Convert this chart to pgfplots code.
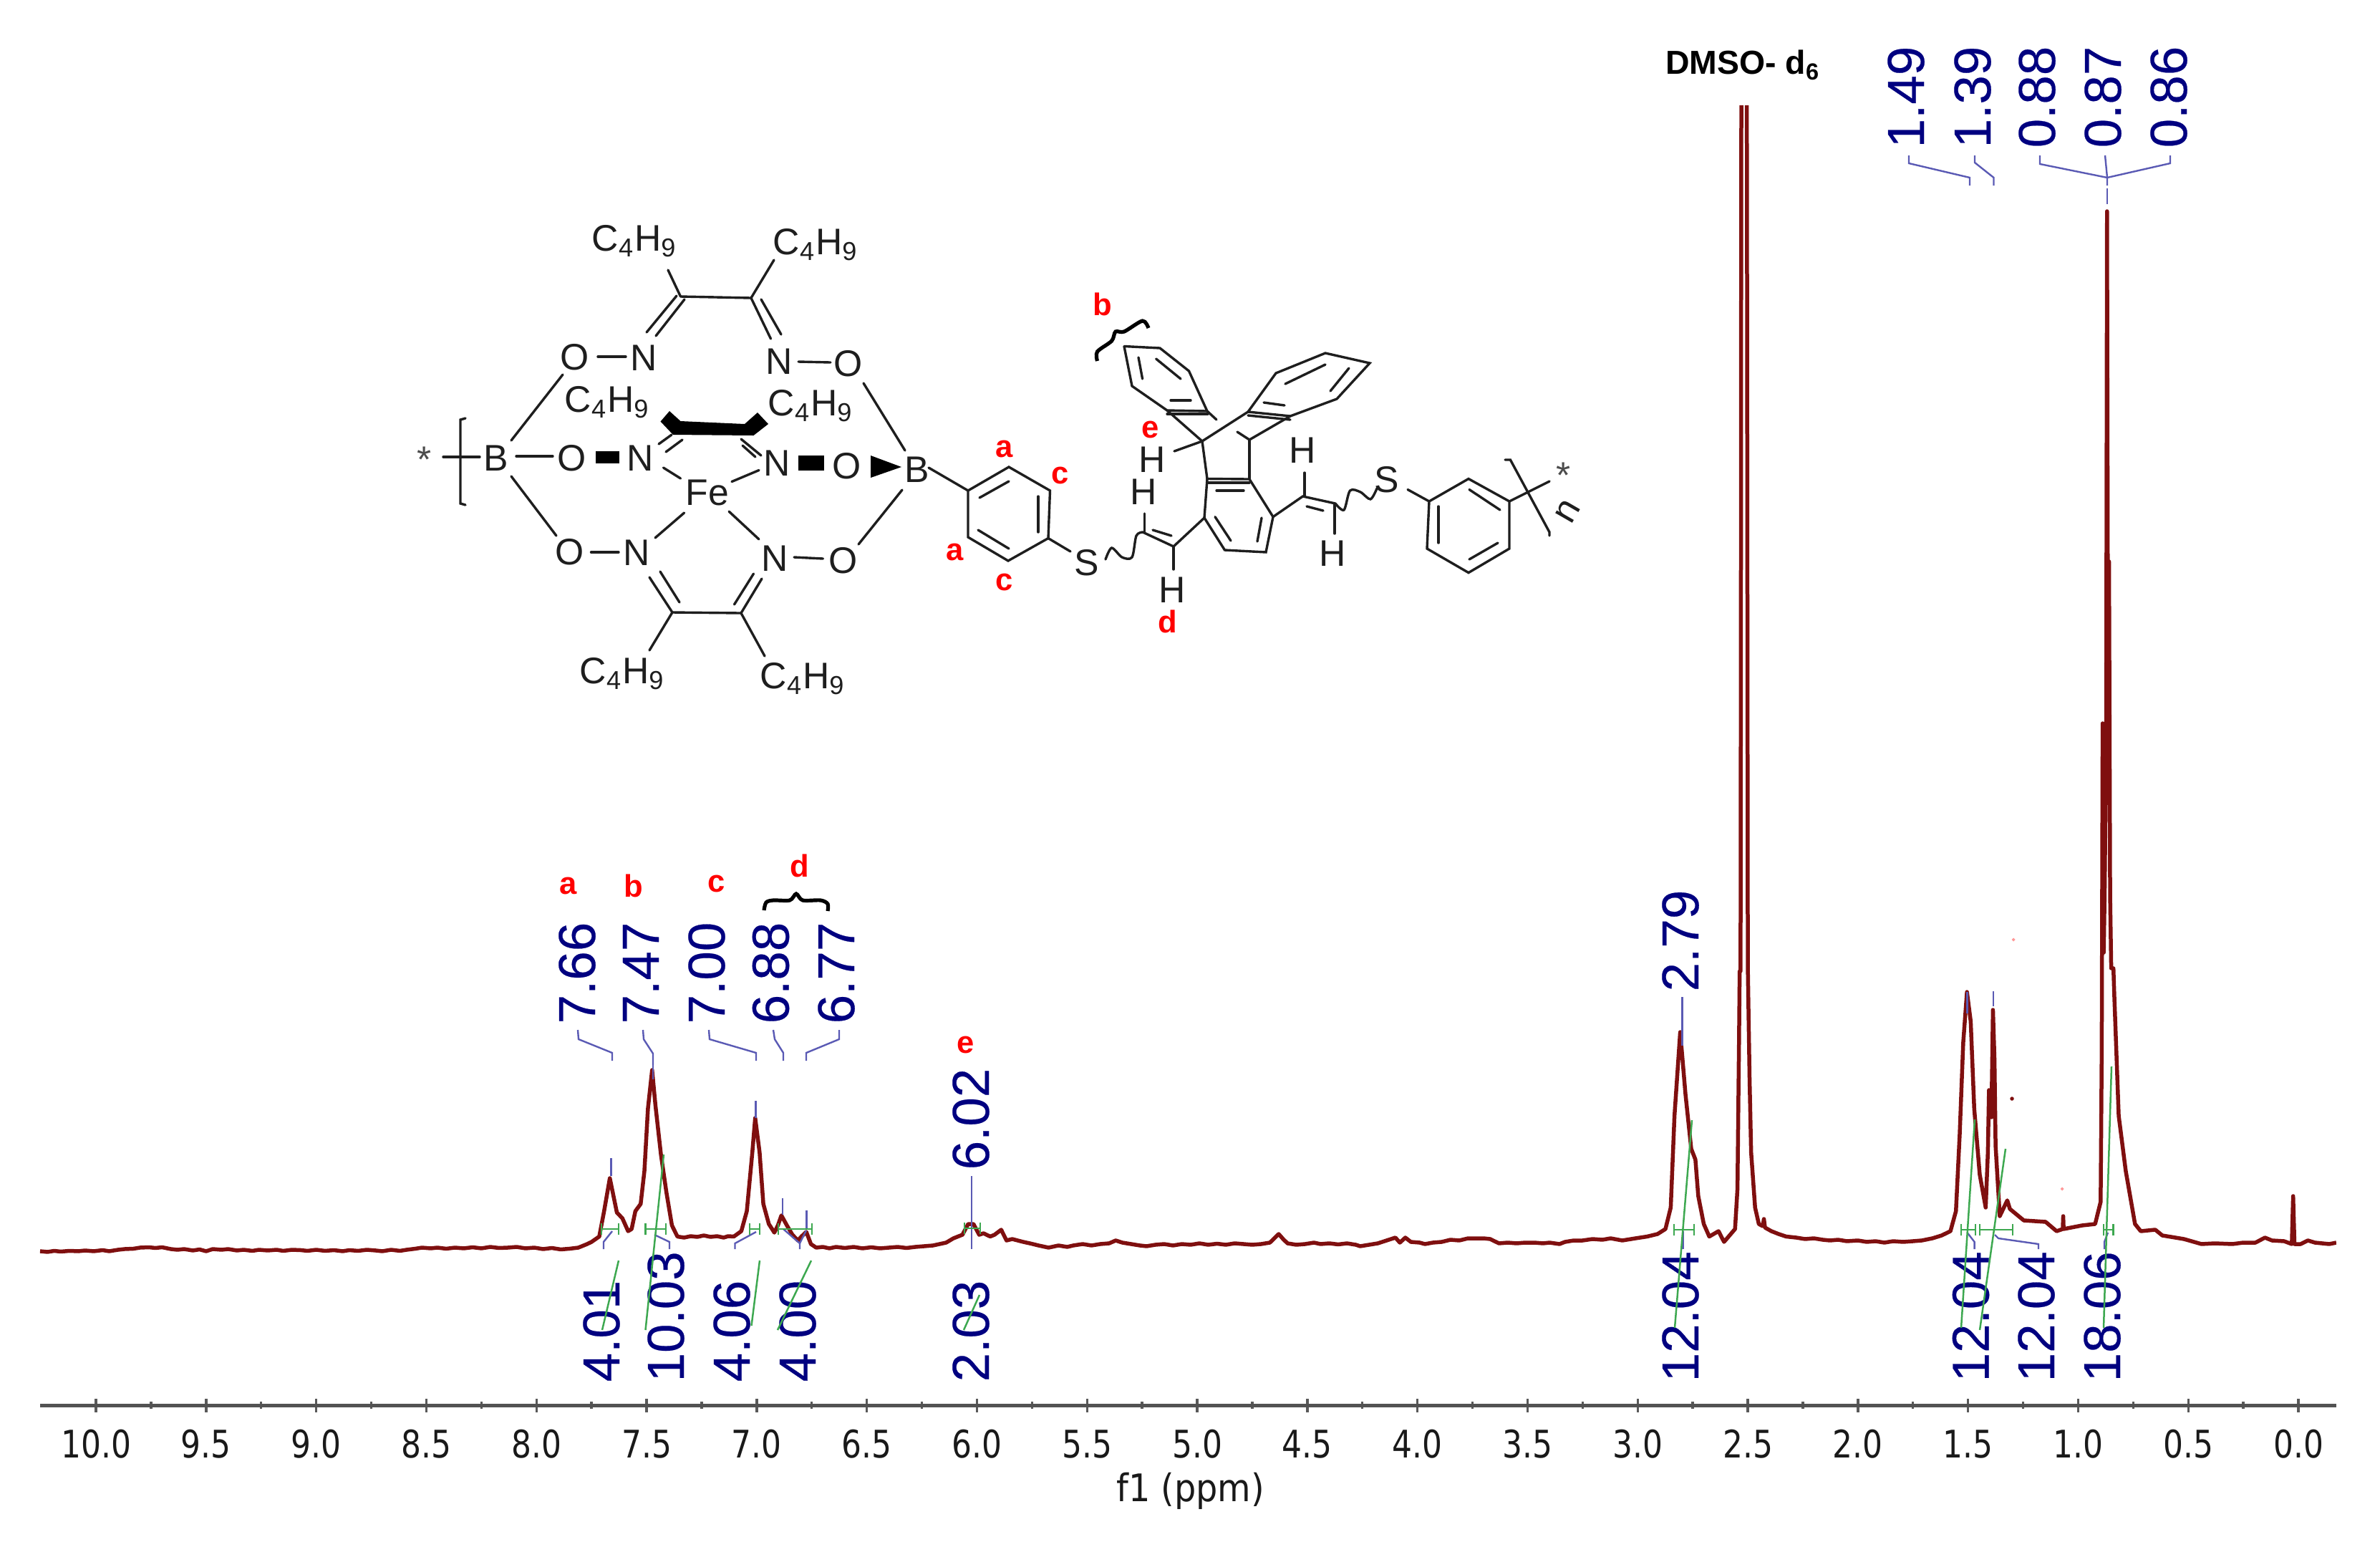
\documentclass[border=0pt]{standalone}
\usepackage{pgfplots}
\usepackage{fontspec}
\pgfplotsset{compat=1.18}
\setmainfont{Liberation Sans}
\newfontfamily\tickfont{DejaVu Sans Condensed}
\newfontfamily\pkfont[FakeBold=0.3]{Liberation Sans}
\definecolor{spec}{HTML}{7F0F0F}
\definecolor{lab}{HTML}{000080}
\definecolor{lead}{HTML}{5A5AB4}
\definecolor{grn}{HTML}{3DA850}
\definecolor{chem}{HTML}{1E1E1E}

% helpers for the overlay axis (coordinates are pixels of the reference)
\tikzset{
  bond/.style={chem,line width=0.034cm,line cap=round},
  solid fill/.style={fill=black,draw=none},
  lead line/.style={lead,line width=0.024cm},
  green line/.style={grn,line width=0.025cm},
  pk/.style={rotate=90,anchor=west,inner sep=0pt,text=lab,font=\pkfont\fontsize{20.7}{20.7}\selectfont},
  atom/.style={inner sep=0pt,text=chem,font=\fontsize{14.7}{14.7}\selectfont},
  tag/.style={inner sep=0pt,text=red,font=\fontsize{12.4}{12.4}\selectfont\bfseries},
}
\newcommand\bd[1]{\addplot[forget plot,bond] coordinates {#1};}
\newcommand\wv[1]{\addplot[forget plot,bond,smooth] coordinates {#1};}
\newcommand\ld[1]{\addplot[forget plot,lead line] coordinates {#1};}
\newcommand\gr[1]{\addplot[forget plot,green line] coordinates {#1};}
\newcommand\pk[3]{\node[pk] at (axis cs:#1,#2) {#3};}
\newcommand\at[3]{\node[atom] at (axis cs:#1,#2) {#3};}
\newcommand\tg[3]{\node[tag] at (axis cs:#1,#2) {#3};}
\newcommand\cf{C\textsubscript{4}H\textsubscript{9}}

\begin{document}
\begin{tikzpicture}
\path[use as bounding box] (0,0) rectangle (33.24,21.52);

\begin{axis}[
  at={(0.56cm,1.90cm)},anchor=south west,scale only axis,
  width=32.07cm,height=18.14cm,
  x dir=reverse,xmin=-0.172,xmax=10.254,ymin=-212,ymax=1602,
  axis x line=bottom,axis y line=none,axis line style={-,draw=black!68,line width=0.05cm},
  xtick={0,0.5,...,10},minor x tick num=1,
  tick style={draw=black!65,line width=0.034cm},
  major tick length=0.19cm,minor tick length=0.10cm,
  xticklabel={\pgfmathprintnumber[fixed,fixed zerofill,precision=1,assume math mode=true]{\tick}},
  xticklabel style={font=\tickfont\fontsize{15.1}{15.1}\selectfont,text=black!90,anchor=center,yshift=-0.45cm,xscale=0.92},
  xlabel={f1 (ppm)},
  every axis x label/.style={at={(axis description cs:0.501,0)},anchor=center,yshift=-1.20cm,
    font=\tickfont\fontsize{15.1}{15.1}\selectfont,text=black!90},
]
\addplot[spec,line width=0.055cm,line join=round] coordinates {
(10.254,3)(10.22,2)(10.19,3.5)(10.16,2.5)(10.12,3.5)(10.08,3)(10.05,4)(10.01,3)(9.97,4.5)(9.94,3)
(9.90,5)(9.87,6)(9.83,6.5)(9.80,8)(9.76,8.5)(9.73,7.5)(9.70,8.5)(9.66,6)(9.63,5)(9.60,6)
(9.56,4)(9.53,5.5)(9.50,3)(9.47,6)(9.43,5)(9.40,6)(9.36,4)(9.33,5)(9.29,3.5)(9.26,5)
(9.22,4)(9.18,5)(9.15,3.5)(9.11,5)(9.07,4.5)(9.04,3.5)(9.00,5)(8.96,3.5)(8.92,4.5)(8.88,3)
(8.85,4.5)(8.81,3.5)(8.77,5)(8.73,4)(8.70,3)(8.66,5)(8.62,3.5)(8.59,5)(8.55,6.5)(8.52,8)
(8.48,7)(8.45,8)(8.41,6.5)(8.37,8)(8.33,7)(8.29,8.5)(8.25,7)(8.21,9)(8.17,7.5)(8.13,8)
(8.09,9)(8.05,7)(8.01,8)(7.97,6)(7.93,7.5)(7.89,5.5)(7.85,6.5)(7.81,8)(7.77,13)(7.75,16)
(7.715,23.5)(7.693,59)(7.667,105)(7.635,57)(7.61,49)(7.584,31)(7.568,34)(7.551,59)(7.527,69)(7.51,115)
(7.494,202)(7.475,256)(7.46,207)(7.435,138)(7.41,85)(7.385,39)(7.36,23.5)(7.33,22)(7.30,24)(7.27,23)
(7.24,25)(7.21,23)(7.18,24)(7.15,22)(7.13,24)(7.104,23.5)(7.07,31)(7.045,59)(7.02,141)(7.007,189)
(6.987,141)(6.97,69)(6.945,41)(6.92,29)(6.904,39)(6.888,53)(6.863,39)(6.838,26)(6.813,18)(6.797,23.5)
(6.775,30)(6.754,13)(6.73,8)(6.70,9)(6.67,7)(6.64,9)(6.60,7.5)(6.56,9)(6.52,7)(6.48,8.5)
(6.44,7)(6.40,8)(6.36,9)(6.32,7.5)(6.28,9)(6.24,10)(6.20,11)(6.17,13)(6.14,15)(6.107,21)
(6.066,26)(6.04,41)(6.016,41)(5.99,26)(5.97,28)(5.94,23.5)(5.92,26)(5.89,33)(5.866,18)(5.84,20)
(5.79,16)(5.76,14)(5.72,11)(5.675,8)(5.63,11)(5.59,9)(5.563,11)(5.52,13)(5.48,11)(5.44,13)
(5.40,14)(5.37,18)(5.34,15)(5.30,13)(5.26,11)(5.23,10)(5.19,12)(5.15,13)(5.11,11)(5.07,13)
(5.03,12)(4.99,14)(4.95,12)(4.91,13.5)(4.87,12)(4.83,14)(4.79,13)(4.75,12)(4.71,13)(4.67,15)
(4.65,21)(4.63,27)(4.61,20)(4.59,14)(4.55,12)(4.51,13)(4.47,15)(4.44,13)(4.40,14)(4.36,12.5)
(4.32,14)(4.28,12)(4.26,10)(4.22,12)(4.18,14)(4.14,18)(4.10,22)(4.08,15)(4.055,22)(4.03,16)
(3.99,15)(3.966,13)(3.93,15)(3.89,16)(3.85,19)(3.81,18)(3.77,21)(3.73,21)(3.70,21)(3.67,20)
(3.63,14)(3.59,15)(3.55,14)(3.51,15)(3.47,15)(3.43,14)(3.40,15)(3.355,13)(3.33,16)(3.29,18)
(3.25,18)(3.205,20)(3.16,19)(3.123,21)(3.07,18)(3.01,21)(2.957,23.5)(2.91,27)(2.874,34)(2.85,64)
(2.833,192)(2.807,309)(2.783,222)(2.757,146)(2.738,131)(2.725,80)(2.70,41)(2.675,23.5)(2.633,31)(2.608,16)
(2.558,34)(2.547,90)(2.54,294)(2.537,394)(2.533,394)(2.531,1000)(2.530,1500)(2.52,3000)(2.514,3000)(2.504,1500)
(2.50,400)(2.492,243)(2.485,141)(2.467,64)(2.45,41)(2.432,38)(2.427,48)(2.422,36)(2.393,31)(2.36,27)(2.326,23.5)(2.28,22)
(2.24,20)(2.20,21)(2.16,19)(2.127,18)(2.09,19)(2.05,17)(2.00,18)(1.96,16)(1.92,17)(1.88,15)
(1.84,17)(1.795,16)(1.75,17)(1.71,18)(1.662,21)(1.62,25)(1.58,31)(1.555,59)(1.538,166)(1.522,294)
(1.505,365)(1.488,324)(1.472,202)(1.447,110)(1.42,64)(1.41,141)(1.405,228)(1.394,190)(1.387,340)(1.38,270)
(1.375,150)(1.356,52)(1.322,74)(1.31,62)(1.247,46)(1.148,44)(1.098,31)(1.07,34)(1.068,52)(1.066,34)
(0.982,39)(0.923,41)(0.898,72)(0.893,284)(0.889,740)(0.884,420)(0.880,500)(0.873,700)(0.869,1455)(0.864,700)
(0.860,966)(0.855,500)(0.850,398)(0.84,398)(0.836,360)(0.816,192)(0.784,115)(0.742,41)(0.716,31)(0.683,32)
(0.65,33)(0.618,25)(0.52,20)(0.44,13)(0.38,14)(0.30,13)(0.25,15)(0.195,15)(0.152,22)(0.12,18)
(0.065,17)(0.03,13)(0.024,80)(0.018,13)(-0.01,13)(-0.043,18)(-0.075,15)(-0.14,13)(-0.172,15)
};
\end{axis}

\begin{axis}[
  at={(0,0)},anchor=south west,scale only axis,width=33.24cm,height=21.52cm,
  hide axis,clip=false,y dir=reverse,xmin=0,xmax=3324,ymin=0,ymax=2152,
]
% pink and red specks
\addplot[forget plot,only marks,mark=*,mark size=0.02cm,spec] coordinates {(2810,1534)};
\addplot[forget plot,only marks,mark=*,mark size=0.015cm,red!40] coordinates {(2812,1312)(2880,1660)};

% peak lists, top of the spectrum
\pk{806}{1430}{7.66}\pk{895}{1430}{7.47}\pk{987}{1430}{7.00}\pk{1076.5}{1430}{6.88}\pk{1168}{1430}{6.77}
\pk{1356}{1634}{6.02}\pk{2347}{1385}{2.79}
\pk{2662}{207}{1.49}\pk{2755}{207}{1.39}\pk{2845}{207}{0.88}\pk{2937}{207}{0.87}\pk{3029}{207}{0.86}
% integrals
\pk{840}{1930}{4.01}\pk{930}{1930}{10.03}\pk{1022}{1930}{4.06}\pk{1114}{1930}{4.00}\pk{1356}{1930}{2.03}
\pk{2347}{1930}{12.04}\pk{2752.5}{1930}{12.04}\pk{2844}{1930}{12.04}\pk{2936}{1930}{18.06}

% leader lines
\ld{(807,1438)(808,1451)(855,1470)(855,1481)}
\ld{(898,1438)(899,1451)(912,1471)(912,1487)}
\ld{(990,1438)(991,1451)(1056,1470)(1056,1481)}
\ld{(1080,1438)(1082,1451)(1094,1470)(1094,1481)}
\ld{(1172,1438)(1172,1451)(1126,1470)(1126,1481)}
\ld{(853.6,1617)(853.6,1642)}\ld{(912,1482)(912,1507)}\ld{(1055.6,1537)(1055.6,1561)}
\ld{(1093,1673)(1093,1696)}\ld{(1126.5,1690)(1126.5,1716)}
\ld{(1357,1642)(1357,1744)}
\ld{(2349.5,1392)(2349.5,1460)}\ld{(2350.5,1719)(2350.5,1744)}
\ld{(2747.5,1385)(2747.5,1415)}\ld{(2784,1384)(2784,1405)}
\ld{(2666,217)(2666,228)(2751,248)(2751,259)}
\ld{(2758,217)(2758,227)(2784.5,248)(2784.5,259)}
\ld{(2849,217)(2849,229)(2943,248)}
\ld{(2940,217)(2943,248)(2943,259)}
\ld{(3031,217)(3031,228)(2943,248)}
\ld{(2943,263)(2943,285)}
\ld{(855,1719)(843,1734)(843,1744)}
\ld{(914,1724)(935,1734)(935,1744)}
\ld{(1056,1720)(1026.5,1736)(1026.5,1744)}
\ld{(1094,1716)(1117,1736)(1117,1744)}
\ld{(1126,1718)(1117,1736)}
\ld{(2747.5,1721)(2757.6,1734)(2757.6,1744)}
\ld{(2786,1724)(2791,1729)(2847,1737)(2847,1744)}
\ld{(2944,1721)(2939,1734)(2939,1744)}

% integral brackets and curves
\gr{(840,1708)(840,1724)(840,1716)(864,1716)(864,1708)(864,1724)}\gr{(864,1760)(841,1857)}
\gr{(901.5,1708)(901.5,1724)(901.5,1716)(930,1716)(930,1708)(930,1724)}\gr{(927,1612)(901.5,1857)}
\gr{(1047,1708)(1047,1724)(1047,1716)(1061,1716)(1061,1708)(1061,1724)}\gr{(1061,1760)(1049.5,1851)}
\gr{(1087,1708)(1087,1724)(1087,1716)(1134,1716)(1134,1708)(1134,1724)}\gr{(1133,1760)(1086,1857)}
\gr{(1347,1707)(1347,1723)(1347,1715)(1369,1715)(1369,1707)(1369,1723)}\gr{(1368,1808)(1346,1857)}
\gr{(2338,1709)(2338,1725)(2338,1717)(2366,1717)(2366,1709)(2366,1725)}\gr{(2363,1564)(2339,1854)}
\gr{(2739,1709)(2739,1725)(2739,1717)(2759,1717)(2759,1709)(2759,1725)}\gr{(2758,1563)(2739,1854)}
\gr{(2765,1709)(2765,1725)(2765,1717)(2811,1717)(2811,1709)(2811,1725)}\gr{(2801,1604)(2765,1857)}
\gr{(2938,1709)(2938,1725)(2938,1717)(2951.5,1717)(2951.5,1709)(2951.5,1725)}\gr{(2949,1489)(2938,1854)}

% assignments over the peaks
\tg{794}{1237}{a}\tg{885}{1237}{b}\tg{1001}{1234}{c}\tg{1117}{1209}{d}\tg{1349}{1459}{e}
\addplot[forget plot,black,line width=0.052cm,smooth] coordinates {(1067,1271)(1070,1260)(1080,1257)(1103,1257)(1112,1248)(1121,1257)(1146,1257)(1156,1262)(1156,1272)};
\node[inner sep=0pt,font=\fontsize{13.2}{13.2}\selectfont\bfseries] at (axis cs:2434,91) {DMSO- d\textsubscript{6}};

% structure: clathrochelate part
\at{886}{337}{\cf}\at{1139}{342}{\cf}\at{848}{562}{\cf}\at{1132}{567}{\cf}\at{869}{941}{\cf}\at{1121}{948}{\cf}
\at{803}{499}{O}\at{899}{500}{N}\at{1088}{505}{N}\at{1185}{508}{O}
\at{693}{640}{B}\at{799}{640}{O}\at{894}{640}{N}\at{1085}{647}{N}\at{1183}{651}{O}\at{1281}{656}{B}
\at{988}{688}{Fe}\at{796}{771}{O}\at{889}{772}{N}\at{1082}{780}{N}\at{1178}{783}{O}
\node[atom,text=black!70] at (axis cs:593,642) {*};
\bd{(650,584)(643,586)(643,703)(650,705)}\bd{(619,638)(670,638)}
\bd{(950.5,414)(1049,416)}\bd{(950.5,414)(933,377)}\bd{(1049,416)(1081,363)}
\bd{(945,413)(903,464)}\bd{(956,418)(916,469)}\bd{(1049,416)(1076.5,473)}\bd{(1063,418)(1091,467)}
\bd{(835,498)(874,498)}\bd{(1115,505)(1160,506)}
\bd{(786,523)(714,615)}\bd{(1206,535)(1264,629)}\bd{(721,637)(772,637)}\bd{(714,665)(777,748)}
\bd{(825.5,771)(864,771)}\bd{(1109,778)(1149.5,780)}\bd{(1199,760)(1260,684)}
\bd{(926.5,653)(950.5,668)}\bd{(1022,672.5)(1060,656.5)}\bd{(955.6,716)(915,751)}\bd{(1018,714)(1060,753)}
\bd{(939,855)(1035,856)}\bd{(907,806)(939,855)}\bd{(922,798)(949,841)}
\bd{(1035,856)(1064,808)}\bd{(1025.5,844)(1052.5,801)}\bd{(939,855)(907,908)}\bd{(1035,856)(1068,916)}
\bd{(930,631)(953,614)}\bd{(920,620)(938,607)}\bd{(1035,613)(1063,636)}\bd{(1037,622)(1055,638)}
\addplot[forget plot,solid fill] coordinates {(935,574)(950.5,588)(1040,592)(1058,576)(1073,592)(1052.5,608)(940,607)(922.5,588.5)} --cycle;
\addplot[forget plot,solid fill] coordinates {(832,630)(865,630)(865,647)(832,647)} --cycle;
\addplot[forget plot,solid fill] coordinates {(1115,636)(1151,636)(1151,657)(1115,657)} --cycle;
\addplot[forget plot,solid fill] coordinates {(1216,636)(1259,652)(1216,667)} --cycle;
\bd{(1297,653)(1352,685)}

% structure: phenylene, triptycene, thioether arms
\bd{(1352,685)(1409,652)(1466.5,685)(1464,751.5)(1408,783)(1352,750)(1352,685)}
\bd{(1368,695)(1409,672)}\bd{(1450,693)(1450,743)}\bd{(1366,740)(1409,766)}
\bd{(1464,751.5)(1495,770)}\at{1518}{786}{S}
\wv{(1544,781)(1552.6,765)(1567,778)(1581,778)(1587,748)(1596,743)}
\bd{(1596,743)(1639,763)}\bd{(1610,740)(1636,748)}
\at{1597}{687}{H}\bd{(1598.5,717)(1598.5,743)}
\at{1609}{642}{H}\bd{(1640,630)(1679,616)}
\at{1637}{824}{H}\bd{(1639,763)(1639,795)}
\bd{(1639,763)(1682,723)}
\bd{(1682,723)(1686,668.5)(1745,669)(1778,721.6)(1768,771)(1710.5,768)(1682,723)}
\bd{(1686,674)(1745,674)}\bd{(1699,685)(1737,685)}\bd{(1697,721.6)(1719,755)}\bd{(1762,723)(1756,756)}
\bd{(1679,616)(1686,668.5)}\bd{(1745,614)(1745,669)}
\bd{(1570,483.5)(1620,486)(1660.5,518)(1686,574)(1630,573)(1581,539)(1570,483.5)}
\bd{(1590,499)(1595.6,529)}\bd{(1614.6,501)(1649,529)}\bd{(1635,559)(1663,559)}\bd{(1630,578)(1687,578)}
\bd{(1630,573)(1679,616)}\bd{(1686,574)(1699,586)}
\bd{(1743,575)(1782,521)(1851,493)(1913,507)(1867,557)(1802,581)(1743,575)}
\bd{(1795,536)(1851,509)}\bd{(1858,546)(1884,514)}\bd{(1765,562)(1794,566)}\bd{(1743,580)(1802,586)}
\bd{(1743,575)(1679,616)}\bd{(1802,581)(1745,614)}\bd{(1728,603)(1745,614)}
\bd{(1778,721.6)(1819.5,693)(1865,703)}\bd{(1825,707)(1848,713)}
\at{1819.5}{629}{H}\bd{(1822,660)(1822,693)}
\at{1861}{773}{H}\bd{(1864,703)(1864,745)}
\wv{(1865,703)(1877,712)(1885.5,685)(1900,687)(1914,697)(1923,682)}
\at{1937}{670}{S}\bd{(1966,683.5)(1996,700)}
\bd{(1996,700)(2051,668.5)(2108,700)(2108,766)(2051,799.6)(1993,766)(1996,700)}
\bd{(2052,683.5)(2095,712)}\bd{(2009,707)(2009,758)}\bd{(2052,781)(2092,758)}
\bd{(2108,700)(2164,672)}\bd{(2102,642)(2109.4,642)(2164,743)(2164,748)}
\node[atom,text=black!70] at (axis cs:2184,664) {*};
\node[atom,rotate=60] at (axis cs:2190,714) {n};
\tg{1403}{627}{a}\tg{1481}{664}{c}\tg{1334}{771}{a}\tg{1403}{813}{c}
\tg{1540}{425}{b}\tg{1631}{868}{d}\tg{1607}{600}{e}
\addplot[forget plot,black,line width=0.052cm,smooth] coordinates {(1604,458)(1595.6,448)(1570,463)(1558,463)(1552.6,476)(1532.5,491)(1532.5,504)};
\end{axis}
\end{tikzpicture}
\end{document}
